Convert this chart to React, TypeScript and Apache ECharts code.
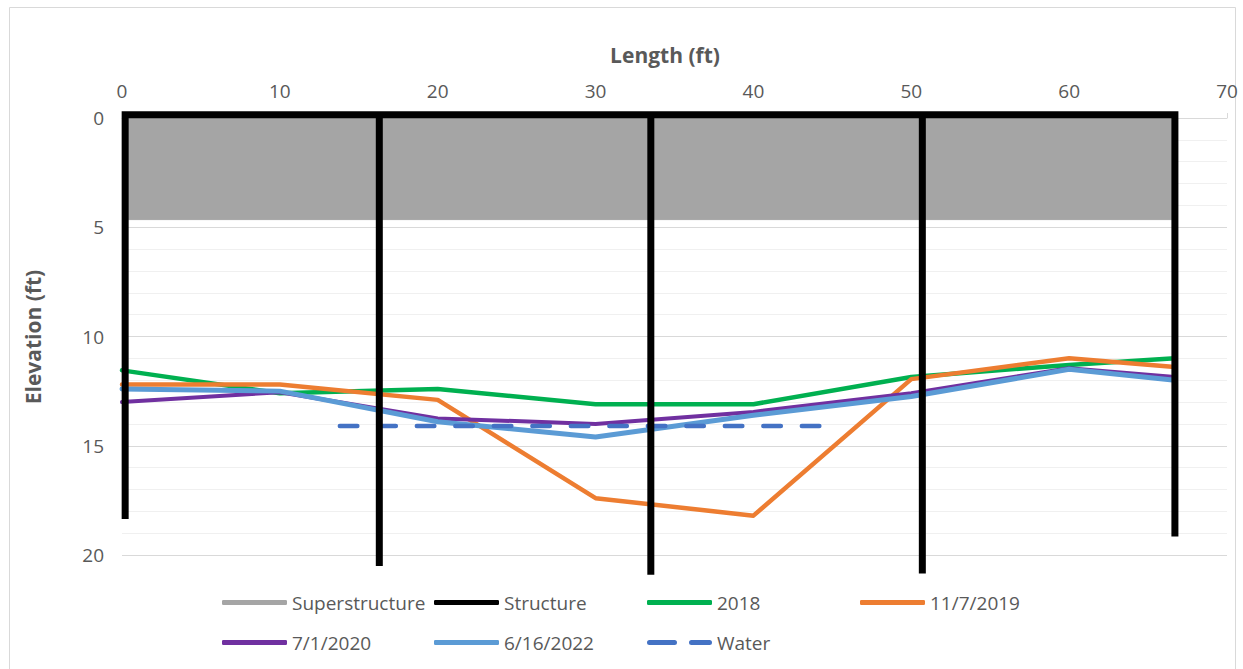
import React, { useEffect, useRef } from "react";
import * as echarts from "echarts";

// ---- data ----
const stations = [0, 10, 20, 30, 40, 50, 60, 66.7];
const elev2018 = [11.55, 12.6, 12.4, 13.1, 13.1, 11.85, 11.3, 11.0];
const elev2019 = [12.2, 12.2, 12.9, 17.4, 18.2, 11.95, 11.0, 11.4];
const elev2020 = [13.0, 12.55, 13.75, 14.0, 13.45, 12.6, 11.45, 11.85];
const elev2022 = [12.4, 12.5, 13.9, 14.6, 13.6, 12.75, 11.5, 12.0];

const waterX = [13.8, 44.5];
const waterY = [14.1, 14.1];

const pierX = [0.2, 16.3, 33.5, 50.7, 66.7];
const pierBottom = [18.35, 20.5, 20.9, 20.85, 19.15];
const beamY = -0.15;

const superX = [0.2, 66.7];
const superBottom = 4.65;

const xTicks = { min: 0, max: 70, interval: 10 };
const yTicks = { min: 0, max: 20, interval: 5 };

const FONT = "'Open Sans', 'Noto Sans', sans-serif";
const GREY_TEXT = "#595959";

const zip = (xs: number[], ys: number[]) => xs.map((x, i) => [x, ys[i]]);

export default function App() {
  const ref = useRef<HTMLDivElement>(null);

  useEffect(() => {
    if (!ref.current) return;
    const chart = echarts.init(ref.current, undefined, { renderer: "svg" });

    const outer = [
      [pierX[0], pierBottom[0]],
      [pierX[0], beamY],
      [pierX[4], beamY],
      [pierX[4], pierBottom[4]],
    ];
    const structStyle = { color: "#000000", width: 7, cap: "butt", join: "miter" };
    const structureSeries: any[] = [
      {
        name: "Structure",
        type: "line",
        data: outer,
        symbol: "none",
        clip: false,
        z: 4,
        lineStyle: structStyle,
        itemStyle: { color: "#000000" },
      },
    ];
    for (let i = 1; i < pierX.length - 1; i++) {
      structureSeries.push({
        name: "Structure",
        type: "line",
        data: [
          [pierX[i], beamY],
          [pierX[i], pierBottom[i]],
        ],
        symbol: "none",
        clip: false,
        z: 4,
        lineStyle: structStyle,
        itemStyle: { color: "#000000" },
      });
    }

    const prof = (name: string, ys: number[], color: string, width = 4.5) => ({
      name,
      type: "line",
      data: zip(stations, ys),
      symbol: "none",
      z: 3,
      lineStyle: { color, width, cap: "round", join: "round" },
      itemStyle: { color },
    });

    const legendCols = [222, 434, 647, 860];
    const rows = [593, 633];
    const legendItems: [string, number, number][] = [
      ["Superstructure", legendCols[0], rows[0]],
      ["Structure", legendCols[1], rows[0]],
      ["2018", legendCols[2], rows[0]],
      ["11/7/2019", legendCols[3], rows[0]],
      ["7/1/2020", legendCols[0], rows[1]],
      ["6/16/2022", legendCols[1], rows[1]],
      ["Water", legendCols[2], rows[1]],
    ];

    const legends = legendItems.map(([name, left, top]) => ({
      data: [name],
      left,
      top,
      padding: 0,
      itemWidth: 65,
      itemHeight: 5,
      itemGap: 5,
      icon:
        name === "Water"
          ? "path://M2.5,0H27.5A2.5,2.5,0,0,1,27.5,5H2.5A2.5,2.5,0,0,1,2.5,0Z M44.5,0H62.5A2.5,2.5,0,0,1,62.5,5H44.5A2.5,2.5,0,0,1,44.5,0Z"
          : "roundRect",
      symbolKeepAspect: false,
      selectedMode: false,
      textStyle: { color: GREY_TEXT, fontSize: 19, fontFamily: FONT },
    }));

    chart.setOption({
      animation: false,
      backgroundColor: "#ffffff",
      grid: { left: 122, top: 118, width: 1105, height: 437, containLabel: false },
      xAxis: {
        type: "value",
        position: "top",
        min: xTicks.min,
        max: xTicks.max,
        interval: xTicks.interval,
        axisLine: { show: true, lineStyle: { color: "#d9d9d9", width: 1 } },
        axisTick: { show: true, length: 5, lineStyle: { color: "#d9d9d9" } },
        splitLine: { show: false },
        axisLabel: { color: GREY_TEXT, fontSize: 19, fontFamily: FONT, margin: 18 },
      },
      yAxis: {
        type: "value",
        inverse: true,
        min: yTicks.min,
        max: yTicks.max,
        interval: yTicks.interval,
        axisLine: { show: false },
        axisTick: { show: false },
        minorTick: { show: false, splitNumber: 5 },
        splitLine: { show: true, lineStyle: { color: "#d9d9d9", width: 1 } },
        minorSplitLine: { show: true, lineStyle: { color: "#f0f0f0", width: 1 } },
        axisLabel: { color: GREY_TEXT, fontSize: 19, fontFamily: FONT, margin: 18 },
      },
      legend: legends,
      graphic: [
        {
          type: "rect",
          silent: true,
          shape: { x: 9.5, y: 7.5, width: 1226, height: 700 },
          style: { fill: "none", stroke: "#d9d9d9", lineWidth: 1 },
          z: -10,
        },
        {
          type: "text",
          x: 665,
          y: 55,
          style: {
            text: "Length (ft)",
            fill: GREY_TEXT,
            font: `bold 21px ${FONT}`,
            align: "center",
            verticalAlign: "middle",
            textAlign: "center",
            textVerticalAlign: "middle",
          },
        },
        {
          type: "text",
          x: 33,
          y: 337,
          rotation: Math.PI / 2,
          style: {
            text: "Elevation (ft)",
            fill: GREY_TEXT,
            font: `bold 21px ${FONT}`,
            align: "center",
            verticalAlign: "middle",
            textAlign: "center",
            textVerticalAlign: "middle",
          },
        },
      ],
      series: [
        {
          name: "Superstructure",
          type: "line",
          data: superX.map((x) => [x, superBottom]),
          symbol: "none",
          z: 1,
          lineStyle: { color: "#A5A5A5", width: 1 },
          itemStyle: { color: "#A5A5A5" },
          areaStyle: { color: "#A5A5A5", opacity: 1 },
        },
        ...structureSeries,
        prof("2018", elev2018, "#00B050"),
        prof("11/7/2019", elev2019, "#ED7D31"),
        prof("7/1/2020", elev2020, "#7030A0", 4),
        prof("6/16/2022", elev2022, "#5B9BD5", 5),
        {
          name: "Water",
          type: "line",
          data: zip(waterX, waterY),
          symbol: "none",
          z: 3,
          lineStyle: { color: "#4472C4", width: 4.5, type: [17.5, 21], cap: "round" },
          itemStyle: { color: "#4472C4" },
        },
      ],
    });

    return () => chart.dispose();
  }, []);

  return (
    <div
      ref={ref}
      style={{ position: "absolute", left: 0, top: 0, width: 1243, height: 669 }}
    />
  );
}
